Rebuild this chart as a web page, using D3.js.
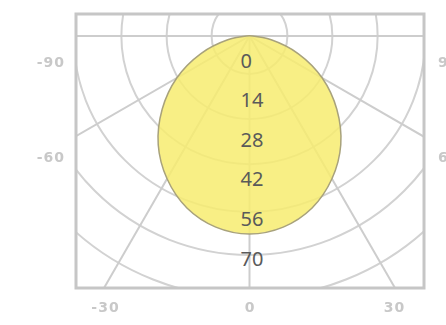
<!DOCTYPE html>
<html>
<head>
<meta charset="utf-8">
<script src="https://cdn.jsdelivr.net/npm/d3@7"></script>
<style>
  html, body { margin: 0; padding: 0; background: #fff; overflow: hidden; }
</style>
</head>
<body>
<div id="chart"></div>
<script>
const angles = [-90, -80, -70, -60, -50, -40, -30, -20, -10, 0, 10, 20, 30, 40, 50, 60, 70, 80, 90];
const intensity = [1.1, 7.8, 18.4, 29.7, 40.3, 50.2, 58.3, 64.7, 68.6, 70, 68.6, 64.7, 58.3, 50.2, 40.3, 29.7, 18.4, 7.8, 1.1];
const radialTicks = [0, 14, 28, 42, 56, 70];
const ringValues = [13.4, 29.3, 45.3, 62.2, 77.4, 92.6, 108.2];
const spokeAngles = [-90, -60, -30, 0, 30, 60, 90];
const bottomTicks = [-30, 0, 30];
const leftTicks = [-90, -60];
const rightTicks = [90, 60];

const W = 446, H = 325;
const frame = { left: 76, right: 424, top: 14, bottom: 288 };

const svg = d3.select('#chart').append('svg')
    .attr('width', W)
    .attr('height', H);

const x = d3.scaleLinear().domain([-30, 30]).range([105, 394]);
const yLeft = d3.scaleLinear().domain([-90, -60]).range([62, 157]);
const yRight = d3.scaleLinear().domain([90, 60]).range([62, 157]);
const r = d3.scaleLinear().domain([0, 70]).range([0, 198]);

const cx = x(0), cy = 36;

svg.append('defs').append('clipPath').attr('id', 'frame-clip')
    .append('rect')
    .attr('x', frame.left).attr('y', frame.top)
    .attr('width', frame.right - frame.left).attr('height', frame.bottom - frame.top);

const grid = svg.append('g').attr('clip-path', 'url(#frame-clip)');

grid.selectAll('circle.ring')
    .data(ringValues)
    .join('circle')
    .attr('class', 'ring')
    .attr('cx', cx).attr('cy', cy)
    .attr('r', d => r(d))
    .attr('fill', 'none')
    .attr('stroke', '#d2d2d2')
    .attr('stroke-width', 2);

grid.selectAll('line.spoke')
    .data(spokeAngles)
    .join('line')
    .attr('class', 'spoke')
    .attr('x1', cx).attr('y1', cy)
    .attr('x2', d => cx + 600 * Math.sin(d * Math.PI / 180))
    .attr('y2', d => cy + 600 * Math.cos(d * Math.PI / 180))
    .attr('stroke', '#cdcdcd')
    .attr('stroke-width', 2);

svg.append('rect')
    .attr('x', frame.left).attr('y', frame.top)
    .attr('width', frame.right - frame.left).attr('height', frame.bottom - frame.top)
    .attr('fill', 'none')
    .attr('stroke', '#c6c6c6')
    .attr('stroke-width', 3);

const curve = d3.lineRadial()
    .angle((d, i) => Math.PI - angles[i] * Math.PI / 180)
    .radius(d => r(d))
    .curve(d3.curveCatmullRomClosed);

svg.append('path')
    .datum(intensity)
    .attr('transform', `translate(${cx},${cy})`)
    .attr('d', curve)
    .attr('fill', '#f7ec70')
    .attr('fill-opacity', 0.85)
    .attr('stroke', '#a8a27c')
    .attr('stroke-width', 1.5);

svg.append('g').selectAll('text')
    .data(radialTicks)
    .join('text')
    .attr('x', cx - 9)
    .attr('y', d => cy + r(d) + 24)
    .attr('dominant-baseline', 'central')
    .style('font-family', '"Noto Sans", sans-serif')
    .style('font-size', '20px')
    .style('fill', '#5a5a5a')
    .text(d => d);

const blur = svg.select('defs').append('filter').attr('id', 'soft');
blur.append('feGaussianBlur').attr('stdDeviation', 0.5);

function styleAxis(g) {
    g.select('.domain').remove();
    g.selectAll('text')
        .attr('filter', 'url(#soft)')
        .style('font-family', '"DejaVu Sans", sans-serif')
        .style('font-weight', 'bold')
        .style('font-size', '14px')
        .style('letter-spacing', '1px')
        .style('fill', '#c8c8c8');
}

const plain = d => String(d);

svg.append('g')
    .attr('transform', `translate(0,${frame.bottom})`)
    .call(d3.axisBottom(x).tickValues(bottomTicks).tickFormat(plain).tickSize(0).tickPadding(14))
    .call(styleAxis);

svg.append('g')
    .attr('transform', `translate(${frame.left},0)`)
    .call(d3.axisLeft(yLeft).tickValues(leftTicks).tickFormat(plain).tickSize(0).tickPadding(11))
    .call(styleAxis);

svg.append('g')
    .attr('transform', `translate(${frame.right},0)`)
    .call(d3.axisRight(yRight).tickValues(rightTicks).tickFormat(plain).tickSize(0).tickPadding(14))
    .call(styleAxis);
</script>
</body>
</html>
